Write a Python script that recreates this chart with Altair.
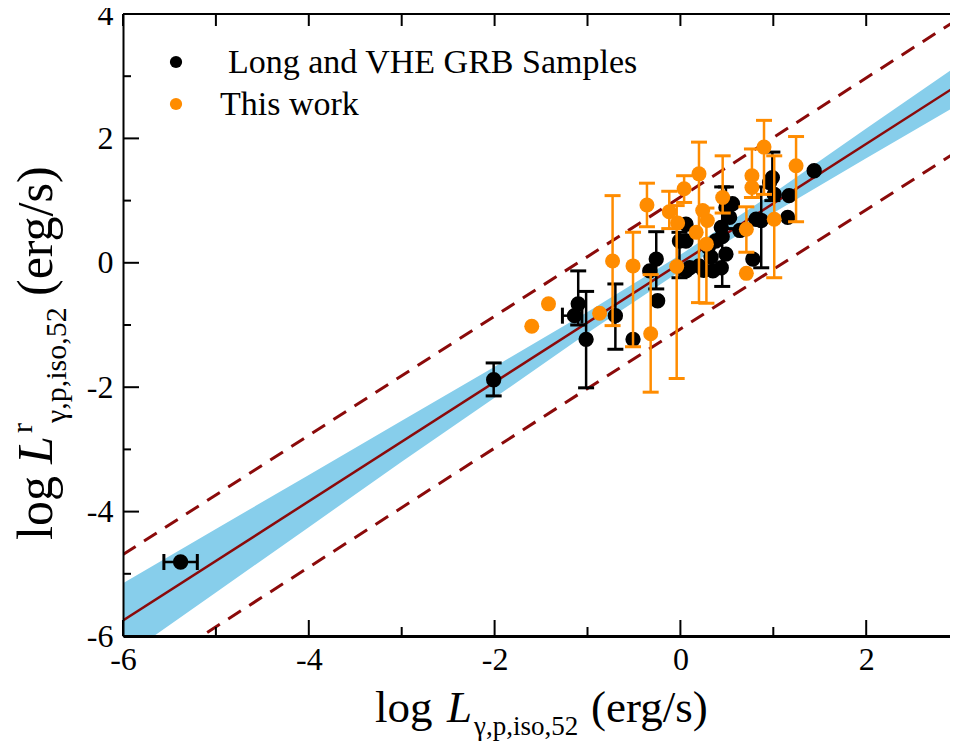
import altair as alt
import pandas as pd

FONT = "Liberation Serif"
DARKRED = "#8B0A0A"
ORANGE = "#FF8C00"
BAND = "#87CEEB"

# ---------------- data ----------------
# Long and VHE GRB samples (black)
bk_x = [-5.38, -2.01, -1.10, -1.14, -1.015, -0.70, -0.51, -0.26, -0.33, -0.245,
        -0.01, 0.10, 0.06, 0.06, 0.06, 0.38, 0.33, 0.35, 0.44, 0.45,
        0.49, 0.53, 0.44, 0.49, 1.44, 1.17, 1.155, 0.99, 1.01, 0.96,
        0.87, 0.78, 0.815, 0.20, 0.30, 0.25, 0.64, 0.56]
bk_y = [-4.81, -1.88, -0.66, -0.85, -1.23, -0.85, -1.23, 0.06, -0.13, -0.61,
        0.35, -0.08, 0.62, 0.35, -0.13, 0.35, 0.09, -0.13, -0.08, 0.42,
        0.89, 0.73, 0.57, 0.14, 1.48, 1.08, 0.73, 1.37, 1.10, 1.29,
        0.68, 0.06, 0.70, -0.05, 0.25, -0.12, 0.52, 0.95]
bk_ylo = [-4.81, -2.14, -1.00, -0.85, -2.01, -1.39, -1.23, -0.42, -0.13, -0.61,
          -0.24, -0.08, 0.62, 0.35, -0.13, 0.35, 0.09, -0.13, -0.08, -0.38,
          0.55, 0.73, 0.57, 0.14, 1.48, 1.08, 0.73, 1.00, 1.10, 1.29,
          -0.08, 0.06, 0.70, -0.05, 0.25, -0.12, 0.52, 0.95]
bk_yhi = [-4.81, -1.61, -0.13, -0.85, -0.46, -0.34, -1.23, 0.50, -0.13, -0.61,
          0.49, -0.08, 0.62, 0.35, -0.13, 0.35, 0.09, -0.13, -0.08, 1.22,
          1.22, 0.73, 0.57, 0.14, 1.48, 1.08, 0.73, 1.78, 1.10, 1.29,
          1.22, 0.06, 0.70, -0.05, 0.25, -0.12, 0.52, 0.95]
bk_xlo = [-5.56, -2.01, -1.10, -1.27, -1.015, -0.70, -0.51, -0.26, -0.33, -0.245,
          -0.01, 0.10, 0.06, 0.06, 0.06, 0.38, 0.33, 0.35, 0.44, 0.45,
          0.49, 0.53, 0.44, 0.49, 1.44, 1.17, 1.155, 0.99, 1.01, 0.96,
          0.87, 0.78, 0.815, 0.20, 0.30, 0.25, 0.64, 0.56]
bk_xhi = [-5.20, -2.01, -1.10, -1.06, -1.015, -0.70, -0.51, -0.26, -0.33, -0.245,
          -0.01, 0.10, 0.06, 0.06, 0.06, 0.38, 0.33, 0.35, 0.44, 0.45,
          0.49, 0.53, 0.44, 0.49, 1.44, 1.17, 1.155, 0.99, 1.01, 0.96,
          0.87, 0.78, 0.815, 0.20, 0.30, 0.25, 0.64, 0.56]

# This work (orange)
or_x = [-1.60, -1.42, -0.87, -0.73, -0.51, -0.36, -0.32, -0.12, -0.03, -0.04,
        0.04, 0.20, 0.17, 0.24, 0.29, 0.28, 0.455, 0.71, 0.71, 0.77,
        0.77, 0.90, 1.01, 1.245]
or_y = [-1.02, -0.66, -0.81, 0.03, -0.05, 0.93, -1.14, 0.82, 0.64, -0.06,
        1.19, 1.43, 0.49, 0.84, 0.68, 0.30, 1.05, 0.54, -0.17, 1.40,
        1.21, 1.86, 0.70, 1.56]
or_ylo = [-1.02, -0.66, -0.81, -1.01, -1.35, 0.58, -2.08, 0.55, 0.64, -1.86,
          0.97, -0.64, 0.49, 0.84, 0.68, -0.65, 0.80, 0.17, -0.17, 1.05,
          1.21, 1.10, -0.24, 0.66]
or_yhi = [-1.02, -0.66, -0.81, 1.08, 0.49, 1.28, -0.19, 1.15, 0.64, 0.92,
          1.40, 1.94, 0.49, 0.84, 0.68, 0.88, 1.72, 0.90, -0.17, 1.83,
          1.21, 2.29, 1.72, 2.03]

# best-fit line and dispersion lines (end points)
fit_x = [-6.0, 3.0]
fit_y = [-5.75, 2.87]
up_y = [-4.69, 3.93]
lo_y = [-6.81, 1.81]

# confidence band
band_x = [-6, -5, -4, -3, -2, -1, 0, 1, 2, 3]
band_up = [-5.15, -4.28, -3.41, -2.54, -1.67, -0.79, 0.13, 1.12, 2.16, 3.19]
band_lo = [-6.35, -5.30, -4.25, -3.20, -2.17, -1.13, -0.13, 0.80, 1.68, 2.55]

x_ticks = [-6, -5, -4, -3, -2, -1, 0, 1, 2]
y_ticks = [-6, -5, -4, -3, -2, -1, 0, 1, 2, 3, 4]
x_labels = [-6, -4, -2, 0, 2]
y_labels = [-6, -4, -2, 0, 2, 4]

legend_labels = ["Long and VHE GRB Samples", "This work"]

# ---------------- chart ----------------
W, H = 827, 622
XDOM = [-6, 2.902]
YDOM = [-6, 4]

label_expr = "datum.value < 0 ? '-' + abs(datum.value) : '' + datum.value"

xs = alt.Scale(domain=XDOM, nice=False, zero=False)
ys = alt.Scale(domain=YDOM, nice=False, zero=False)

xax = alt.Axis(values=x_labels, labelExpr=label_expr, ticks=False, grid=False, title=None,
               labelFont=FONT, labelFontSize=32, labelColor="black", labelPadding=8,
               domainColor="black", domainWidth=3, zindex=1, labelFlush=False)
yax = alt.Axis(values=y_labels, labelExpr=label_expr, ticks=False, grid=False, title=None,
               labelFont=FONT, labelFontSize=32, labelColor="black", labelPadding=10,
               domainColor="black", domainWidth=2, zindex=1, labelFlush=False)

bk = pd.DataFrame({"x": bk_x, "y": bk_y, "ylo": bk_ylo, "yhi": bk_yhi, "xlo": bk_xlo, "xhi": bk_xhi})
orr = pd.DataFrame({"x": or_x, "y": or_y, "ylo": or_ylo, "yhi": or_yhi})
band = pd.DataFrame({"x": band_x, "lo": band_lo, "up": band_up})
lines = pd.DataFrame({"x": fit_x + fit_x + fit_x,
                      "y": fit_y + up_y + lo_y,
                      "g": ["fit", "fit", "up", "up", "lo", "lo"]})

band_l = alt.Chart(band).mark_area(color=BAND, opacity=1, clip=True).encode(
    x=alt.X("x:Q", scale=xs, axis=xax), y=alt.Y("lo:Q", scale=ys, axis=yax), y2="up:Q")

fit_l = alt.Chart(lines).transform_filter("datum.g == 'fit'").mark_line(
    color=DARKRED, strokeWidth=2.5, clip=True).encode(
    x=alt.X("x:Q", scale=xs), y=alt.Y("y:Q", scale=ys), detail="g:N")
dash_l = alt.Chart(lines).transform_filter("datum.g != 'fit'").mark_line(
    color=DARKRED, strokeWidth=3, strokeDash=[15, 10], clip=True).encode(
    x=alt.X("x:Q", scale=xs), y=alt.Y("y:Q", scale=ys), detail="g:N")


def errbars(df, color):
    vb = alt.Chart(df).transform_filter("datum.ylo != datum.yhi")
    rule = vb.mark_rule(color=color, strokeWidth=2.5, opacity=1).encode(
        x=alt.X("x:Q", scale=xs), y=alt.Y("ylo:Q", scale=ys), y2="yhi:Q")
    cap1 = vb.mark_tick(color=color, orient="horizontal", size=16, thickness=3, opacity=1).encode(
        x=alt.X("x:Q", scale=xs), y=alt.Y("ylo:Q", scale=ys))
    cap2 = vb.mark_tick(color=color, orient="horizontal", size=16, thickness=3, opacity=1).encode(
        x=alt.X("x:Q", scale=xs), y=alt.Y("yhi:Q", scale=ys))
    return [rule, cap1, cap2]


def xerrbars(df, color):
    vb = alt.Chart(df).transform_filter("datum.xlo != datum.xhi")
    rule = vb.mark_rule(color=color, strokeWidth=2.5, opacity=1).encode(
        x=alt.X("xlo:Q", scale=xs), x2="xhi:Q", y=alt.Y("y:Q", scale=ys))
    cap1 = vb.mark_tick(color=color, orient="vertical", size=16, thickness=3, opacity=1).encode(
        x=alt.X("xlo:Q", scale=xs), y=alt.Y("y:Q", scale=ys))
    cap2 = vb.mark_tick(color=color, orient="vertical", size=16, thickness=3, opacity=1).encode(
        x=alt.X("xhi:Q", scale=xs), y=alt.Y("y:Q", scale=ys))
    return [rule, cap1, cap2]


bk_pts = alt.Chart(bk).mark_point(shape="circle", filled=True, color="black", size=235, opacity=1).encode(
    x=alt.X("x:Q", scale=xs), y=alt.Y("y:Q", scale=ys))
or_pts = alt.Chart(orr).mark_point(shape="circle", filled=True, color=ORANGE, size=225, opacity=1).encode(
    x=alt.X("x:Q", scale=xs), y=alt.Y("y:Q", scale=ys))

# inward ticks
xt = pd.DataFrame({"v": x_ticks})
yt = pd.DataFrame({"v": y_ticks})
tick_layers = [
    alt.Chart(xt).transform_filter("datum.v % 2 == 0").mark_rule(color="black", strokeWidth=2).encode(
        x=alt.X("v:Q", scale=xs), y=alt.value(H), y2=alt.value(H - 16)),
    alt.Chart(xt).transform_filter("datum.v % 2 != 0").mark_rule(color="black", strokeWidth=2).encode(
        x=alt.X("v:Q", scale=xs), y=alt.value(H), y2=alt.value(H - 9)),
    alt.Chart(xt).mark_rule(color="black", strokeWidth=2).encode(
        x=alt.X("v:Q", scale=xs), y=alt.value(0), y2=alt.value(12)),
    alt.Chart(yt).transform_filter("datum.v % 2 == 0").mark_rule(color="black", strokeWidth=2).encode(
        y=alt.Y("v:Q", scale=ys), x=alt.value(0), x2=alt.value(16)),
    alt.Chart(yt).transform_filter("datum.v % 2 != 0").mark_rule(color="black", strokeWidth=2).encode(
        y=alt.Y("v:Q", scale=ys), x=alt.value(0), x2=alt.value(8)),
]
top_line = alt.Chart(xt).mark_rule(color="black", strokeWidth=2).encode(
    x=alt.value(0), x2=alt.value(W), y=alt.value(0))


def txt(text, x, y, size, italic=False, angle=0):
    return alt.Chart(pd.DataFrame({"t": [text]})).mark_text(
        align="left", baseline="alphabetic", font=FONT, fontSize=size,
        fontStyle="italic" if italic else "normal", angle=angle, color="black").encode(
        text="t:N", x=alt.value(x), y=alt.value(y))


# x title: log L_{γ,p,iso,52} (erg/s)
xtitle = [
    txt("log", 252, 708, 45),
    txt("L", 324, 708, 45, italic=True),
    txt("γ,p,iso,52", 351, 721, 27),
    txt("(erg/s)", 468, 708, 45),
]
# y title: log L^r_{γ,p,iso,52} (erg/s), rotated
YB = -71
ytitle = [
    txt("log", YB, 526, 50, angle=270),
    txt("L", YB, 450, 50, angle=270, italic=True),
    txt("r", YB - 20, 419, 30, angle=270),
    txt("γ,p,iso,52", YB + 14, 409, 30, angle=270),
    txt("(erg/s)", YB, 282, 50, angle=270),
]

# legend
leg = [
    alt.Chart(pd.DataFrame({"t": [legend_labels[0]]})).mark_point(
        shape="circle", filled=True, color="black", size=150, opacity=1).encode(
        x=alt.value(53), y=alt.value(48)),
    alt.Chart(pd.DataFrame({"t": [legend_labels[1]]})).mark_point(
        shape="circle", filled=True, color=ORANGE, size=150, opacity=1).encode(
        x=alt.value(53), y=alt.value(90)),
    txt(legend_labels[0], 105, 59, 34),
    txt(legend_labels[1], 97, 101, 34),
]

layers = ([band_l, fit_l, dash_l] + errbars(bk, "black") + xerrbars(bk, "black") + [bk_pts]
          + errbars(orr, ORANGE) + [or_pts] + tick_layers + [top_line] + xtitle + ytitle + leg)

chart = alt.layer(*layers).properties(
    width=W, height=H, autosize="none",
    padding={"left": 115, "top": 6, "right": 0, "bottom": 106},
).configure_view(stroke=None).configure(background="white")

chart.save("out.html", embed_options={"renderer": "svg", "actions": False})
